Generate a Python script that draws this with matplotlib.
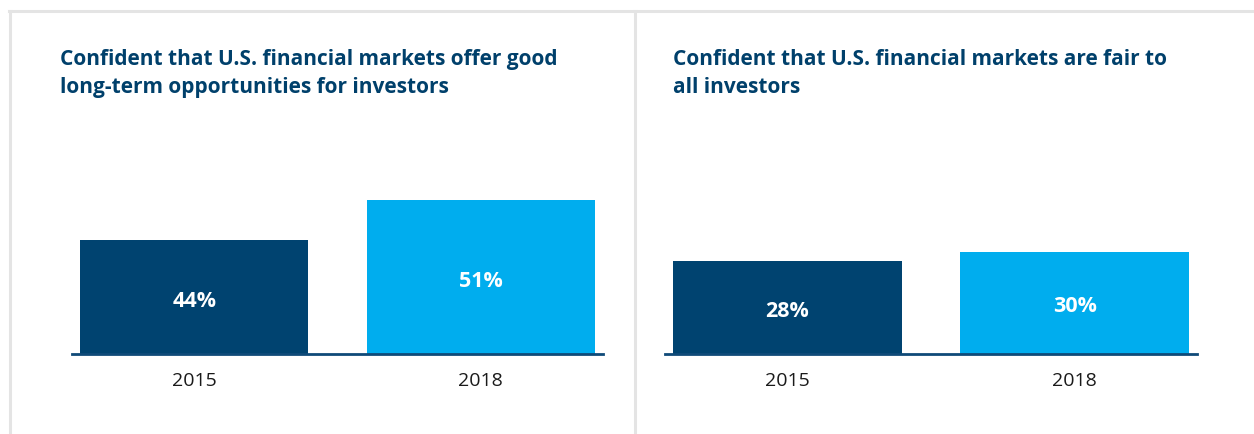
import matplotlib
matplotlib.use("Agg")
import matplotlib.pyplot as plt
from matplotlib.lines import Line2D
from matplotlib.transforms import ScaledTranslation

years = ["2015", "2018"]
good_opportunities = [44, 51]
fair_to_all = [28, 30]
titles = ["Confident that U.S. financial markets offer good\nlong-term opportunities for investors",
          "Confident that U.S. financial markets are fair to\nall investors"]
bar_colors = ["#004370", "#00adee"]
title_color = "#00406b"
axis_color = "#0f4a78"
border_color = "#e4e4e4"

W, H = 1254, 434
fig = plt.figure(figsize=(W / 100, H / 100), dpi=100)
fig.patch.set_facecolor("white")

def fx(px):
    return px / W

def fy(py):
    return 1 - py / H

# panel borders
fig.add_artist(Line2D([fx(9), 1], [fy(11), fy(11)], color=border_color, lw=2.2, transform=fig.transFigure))
fig.add_artist(Line2D([fx(10), fx(10)], [fy(11), 0], color=border_color, lw=2.2, transform=fig.transFigure))
fig.add_artist(Line2D([fx(635), fx(635)], [fy(11), 0], color=border_color, lw=2.2, transform=fig.transFigure))

panels = [
    (good_opportunities, titles[0], 72, 603, (24.05, 59.75), 60),
    (fair_to_all, titles[1], 665, 1197, (7.33, 52.67), 673),
]

top_px, base_px = 150, 354
for values, title, x0, x1, ylim, tx in panels:
    ax = fig.add_axes([fx(x0), fy(base_px), fx(x1 - x0), (base_px - top_px) / H])
    xs = list(range(len(years)))
    ax.bar(xs, values, width=0.796, color=bar_colors, bottom=0)
    ax.set_xlim(-0.426, 1.426)
    ax.set_ylim(*ylim)
    for s in ["top", "right", "left"]:
        ax.spines[s].set_visible(False)
    ax.spines["bottom"].set_color(axis_color)
    ax.spines["bottom"].set_linewidth(2)
    ax.set_yticks([])
    ax.set_xticks(xs)
    ax.set_xticklabels(years, family="Open Sans", fontsize=14, color="#1a1a1a")
    ax.tick_params(axis="x", length=0, pad=13)
    shift = ax.transData + ScaledTranslation(0, -4 / 100, fig.dpi_scale_trans)
    for xi, v in zip(xs, values):
        ax.text(xi, (ylim[0] + v) / 2, f"{v}%", ha="center", va="center",
                color="white", fontsize=15.5, fontweight="bold", family="Open Sans",
                transform=shift)
    fig.text(fx(tx), fy(49), title, ha="left", va="top", color=title_color,
             fontsize=15, fontweight="bold", family="Open Sans", linespacing=1.42)

fig.savefig("out.png", dpi=100, facecolor="white")
